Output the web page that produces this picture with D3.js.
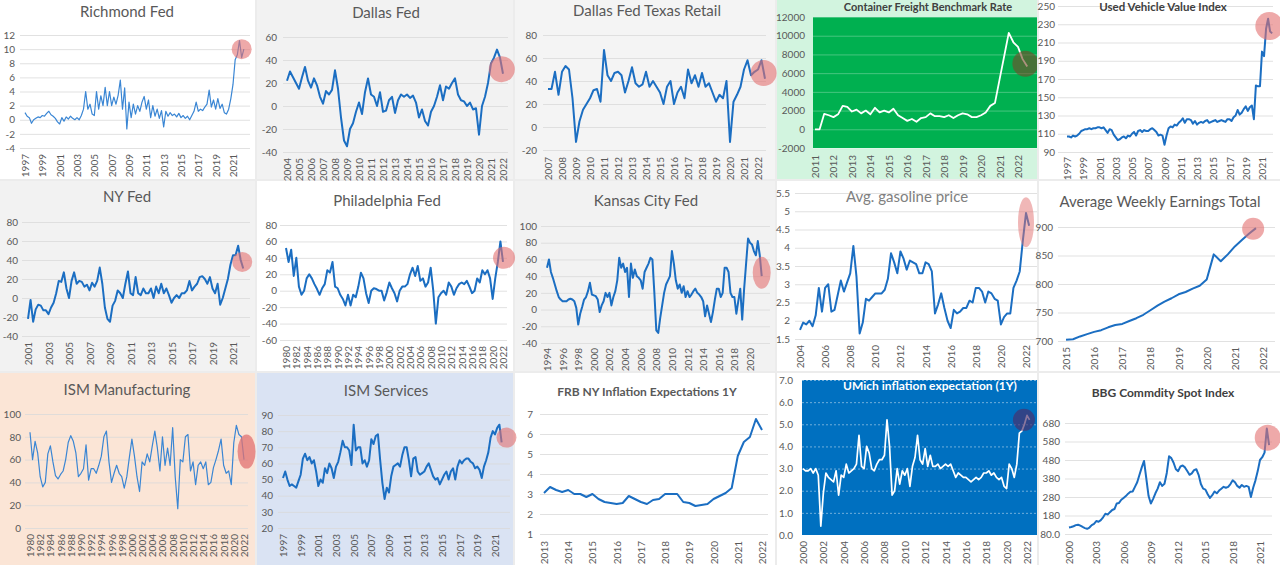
<!DOCTYPE html>
<html>
<head>
<meta charset="utf-8">
<script src="https://cdn.jsdelivr.net/npm/d3@7"></script>
<style>
  body { margin: 0; background: #fff; }
  svg { display: block; font-family: Lato, "Open Sans", sans-serif; }
</style>
</head>
<body>
<div id="chart"></div>
<script>
// ---- series values (quarterly unless noted) ----
const richmondValues = [1.0,0.5,0.3,-0.5, 0.0,0.2,0.4,0.3, 0.6,0.5,0.9,1.2, 0.7,0.5,0.2,-0.3, -0.6,0.3,-0.2,0.4,
  0.1,0.5,0.2,0.0, 0.3,0.0,0.6,1.5, 4.0,1.5,2.2,0.8, 0.6,4.0,1.5,3.4, 2.0,4.6,2.0,4.0, 2.0,3.2,2.2,3.5,
  5.6,1.5,4.5,-1.3, 2.5,0.3,2.2,0.8, 2.0,1.2,2.5,3.3, 1.5,2.8,0.3,2.0, 0.5,1.5,0.2,1.3, -1.0,1.2,0.5,1.0,
  0.6,0.8,0.4,0.9, 0.3,0.6,0.2,0.5, 0.0,0.6,1.2,2.5, 1.2,1.5,1.3,1.8, 2.2,4.2,1.8,2.8, 1.5,3.0,1.6,2.2,
  1.0,0.8,1.5,3.0, 5.0,8.5,9.2,11.2, 8.8,10.0];
const dallasValues = [22,30,25,20, 15,25,34,22, 16,24,18,8, 2,13,10,14, 31,15,-10,-30, -35,-20,-15,-5,
  3,-7,12,24, 10,8,0,12, -5,-4,5,8, -6,5,10,8, 10,7,9,3, -10,-3,-13,-17, -5,0,8,18, 5,17,15,20,
  24,10,5,4, 0,3,-3,-2, -25,0,8,20, 37,42,49,42, 28];
const texasValues = [33,33,48,28, 48,53,50,25, -13,5,15,20, 25,32,33,22, 67,45,40,47, 48,45,30,40,
  52,38,35,37, 48,35,40,35, 30,20,35,40, 20,30,35,25, 50,38,45,35, 47,35,38,30, 22,28,25,40,
  -13,22,28,35, 50,58,45,48, 50,58,42];
const freightValues = [0,0,1650,1500, 1300,1600,2500,2400, 1900,2100,1700,2000, 1600,2300,1800,2000,
  1800,2200,1500,1200, 900,1100,800,1200, 1300,1700,1400,1400, 1300,1500,1200,1500, 1700,1600,1300,1300,
  1500,1800,2500,2800, 5300,7800,10300,9300, 8800,7500,6700];
const usedValues = [107,107,106,108, 107,108,110,113, 114,115,115,116, 115,116,116,117, 117,116,117,114,
  111,115,114,109, 106,103,104,106, 107,105,108,107, 110,112,108,113, 114,112,114,113, 113,115,116,114,
  112,108,109,108, 98,108,116,118, 117,120,119,122, 124,127,122,126, 126,125,121,124, 120,122,123,122,
  124,125,122,123, 124,125,123,124, 125,124,123,126, 126,124,128,130, 136,131,133,137, 140,135,139,141,
  126,163,162,162, 200,195,225,236, 222,220];
const nyValues = [-22,-2,-25,-12, -7,-8,-13,-13, -17,-10,-5,5, 18,17,27,10, 0,18,27,15, 18,17,12,14,
  8,16,12,18, 32,15,-10,-22, -25,-8,-3,8, 5,0,15,28, 5,3,22,5, 3,10,5,5, 10,0,12,5, 15,5,10,3,
  -5,0,3,0, 5,5,8,18, 8,12,15,22, 23,20,15,22, 10,5,15,-7, 0,10,20,35, 45,45,55,40, 31];
// half-yearly
const phillyValues = [52,35, 50,18, 40,5, -5,0, 15,20, 15,8, 2,-5, 3,8, 25,22, 35,5, 3,-5, -10,-18,
  -5,-18, -5,-8, 5,22, 15,-3, -15,0, 3,2, 0,0, -12,-2, 10,3, -3,-13, 0,5, 5,8, 20,28, 18,30, 12,15,
  5,10, 28,0, -40,-8, -3,0, -5,10, 5,-5, 3,8, 10,8, 12,5, -3,0, 15,10, 25,20, 25,15, -10,15, 35,60, 35];
const kansasValues = [50,60,45,38, 30,22,15,12, 10,10,10,12, 13,12,10,2, -18,-5,3,12, 15,22,32,18,
  17,16,12,-3, 5,10,20,15, 20,5,15,22, 35,62,50,55, 45,50,15,55, 38,48,40,38, 35,25,45,50,
  55,62,60,20, -25,-28,-10,5, 20,30,35,40, 70,55,35,25, 30,20,28,15, 22,15,18,22, 25,20,18,15,
  10,-8,5,-5, -15,-3,12,25, 25,15,20,50, 50,45,20,15, 15,-5,10,25, -12,25,55,85, 80,78,70,65, 82,65,40];
const gasValues = [1.75,1.95,1.9,2.0, 1.85,2.15,2.9,2.25, 2.9,3.0,2.25,2.3, 2.7,3.1,2.8,3.05,
  3.3,4.05,3.2,1.65, 1.95,2.6,2.55,2.65, 2.75,2.75,2.75,2.85, 3.15,3.85,3.6,3.3, 3.9,3.7,3.4,3.65,
  3.6,3.55,3.3,3.3, 3.6,3.55,3.35,2.2, 2.45,2.75,2.35,2.0, 1.8,2.3,2.2,2.25, 2.35,2.35,2.55,2.5,
  2.9,2.9,2.8,2.5, 2.8,2.75,2.6,2.55, 1.9,2.1,2.2,2.2, 2.9,3.1,3.35,4.2, 4.95,4.6];
const earningsValues = [702,703,708,712, 716,719,724,728, 730,735,740,746, 754,762,769,775,
  782,786,792,797, 808,852,840,852, 866,877,888,898];
// half-yearly
const ismMfgValues = [84,60, 76,66, 45,36, 40,65, 72,58, 46,43, 47,50, 60,75, 81,76, 66,45, 48,52,
  73,42, 52,52, 48,55, 63,80, 85,58, 40,48, 55,48, 45,35, 45,62, 78,63, 45,32, 58,55, 65,58, 72,85,
  70,50, 80,55, 70,55, 88,45, 17,60, 58,80, 82,50, 58,38, 55,58, 52,58, 38,40, 53,60, 68,78, 55,48,
  50,38, 75,90, 82,80, 60];
const ismSvcValues = [51,55,50,46, 47,46,45,49, 53,63,66,62, 64,60,62,55, 46,50,48,57, 54,60,57,51,
  58,61,67,74, 70,70,68,59, 84,68,70,70, 60,62,58,62, 75,72,77,78, 62,48,38,45, 42,52,58,59,
  60,58,65,70, 70,62,52,63, 64,55,53,54, 55,58,60,56, 52,50,51,47, 50,53,55,50, 55,57,50,58,
  62,60,62,63, 63,61,60,57, 58,56,51,58, 62,67,76,80, 78,82,84,73];
const frbValues = [3.05,3.35,3.2,3.1, 3.2,3.0,3.0,2.85, 3.0,2.75,2.6,2.55, 2.5,2.55,2.9,2.75,
  2.6,2.5,2.7,2.75, 3.0,3.0,3.0,2.6, 2.55,2.4,2.45,2.5, 2.75,2.9,3.05,3.3, 4.9,5.6,5.85,6.75, 6.2];
const umichValues = [3.0,2.9,2.9,3.0, 2.8,3.0,2.7,0.4, 1.9,2.8,2.6,2.5, 2.4,2.9,1.8,2.7, 2.6,3.2,2.8,2.9,
  3.0,3.2,4.5,3.1, 3.0,4.0,3.7,3.0, 2.9,3.2,3.4,3.4, 3.6,5.2,4.0,1.8, 2.0,3.0,2.3,2.9, 2.7,3.0,2.2,3.1,
  3.5,4.5,3.4,3.2, 3.9,3.1,3.6,3.1, 3.1,3.2,3.0,3.1, 3.2,3.1,3.2,2.9, 2.6,2.8,2.7,2.6, 2.6,2.5,2.4,2.5,
  2.6,2.5,2.6,2.8, 2.8,2.9,2.7,2.8, 2.6,2.5,2.6,2.2, 2.1,3.2,3.0,2.6, 3.2,4.6,4.7,5.0, 5.4,5.2];
const bbgValues = [115,118,122,128, 130,125,118,112, 108,115,128,135, 150,146,155,170, 190,185,198,210,
  215,245,248,265, 275,285,298,308, 310,335,360,400, 440,475,380,285, 245,270,300,325, 360,340,352,410,
  500,490,465,430, 420,445,450,440, 420,400,408,425, 430,400,350,325, 320,295,275,290, 310,300,315,325,
  335,330,335,350, 370,360,340,330, 345,335,340,335, 280,330,370,420, 480,495,520,650, 560];

// ---- tick values / labels ----
const richmondYTicks = [-4,-2,0,2,4,6,8,10,12];
const richmondXTicks = [1997,1999,2001,2003,2005,2007,2009,2011,2013,2015,2017,2019,2021];
const dallasYTicks = [-40,-20,0,20,40,60];
const dallasXTicks = [2004,2005,2006,2007,2008,2009,2010,2011,2012,2013,2014,2015,2016,2017,2018,2019,2020,2021,2022];
const texasYTicks = [-20,0,20,40,60,80];
const texasXTicks = [2007,2008,2009,2010,2011,2012,2013,2014,2015,2016,2017,2018,2019,2020,2021,2022];
const freightYTicks = [-2000,0,2000,4000,6000,8000,10000,12000];
const freightXTicks = [2011,2012,2013,2014,2015,2016,2017,2018,2019,2020,2021,2022];
const usedYTicks = [90,110,130,150,170,190,210,230,250];
const usedXTicks = [1997,1999,2001,2003,2005,2007,2009,2011,2013,2015,2017,2019,2021];
const nyYTicks = [-40,-20,0,20,40,60,80];
const nyXTicks = [2001,2003,2005,2007,2009,2011,2013,2015,2017,2019,2021];
const phillyYTicks = [-60,-40,-20,0,20,40,60,80];
const phillyXTicks = [1980,1982,1984,1986,1988,1990,1992,1994,1996,1998,2000,2002,2004,2006,2008,2010,2012,2014,2016,2018,2020,2022];
const kansasYTicks = [-40,-20,0,20,40,60,80,100];
const kansasXTicks = [1994,1996,1998,2000,2002,2004,2006,2008,2010,2012,2014,2016,2018,2020];
const gasYTicks = [1.5,2,2.5,3,3.5,4,4.5,5,5.5];
const gasXTicks = [2004,2006,2008,2010,2012,2014,2016,2018,2020,2022];
const earningsYTicks = [700,750,800,850,900];
const earningsXTicks = [2015,2016,2017,2018,2019,2020,2021,2022];
const ismMfgYTicks = [0,20,40,60,80,100];
const ismMfgXTicks = [1980,1982,1984,1986,1988,1990,1992,1994,1996,1998,2000,2002,2004,2006,2008,2010,2012,2014,2016,2018,2020,2022];
const ismSvcYTicks = [20,30,40,50,60,70,80,90];
const ismSvcXTicks = [1997,1999,2001,2003,2005,2007,2009,2011,2013,2015,2017,2019,2021];
const frbYTicks = [1,2,3,4,5,6,7];
const frbXTicks = [2013,2014,2015,2016,2017,2018,2019,2020,2021,2022];
const umichYTicks = [0,1,2,3,4,5,6,7];
const umichYLabels = ["0.0","1.0","2.0","3.0","4.0","5.0","6.0","7.0"];
const umichXTicks = [2000,2002,2004,2006,2008,2010,2012,2014,2016,2018,2020,2022];
const bbgYTicks = [80,180,280,380,480,580,680];
const bbgYLabels = ["80.0","180","280","380","480","580","680"];
const bbgXTicks = [2000,2003,2006,2009,2012,2015,2018,2021];

// ---- layout of the 15 small charts ----
const PINK = "rgba(226,112,112,0.6)";
const panels = [
  {title:"Richmond Fed", box:[0,0,255,179], fill:"#ffffff", tx:127, ty:13,
   xd:[1997,2021], xr:[25,233], yd:[-4,12], yr:[148,35], yTicks:richmondYTicks, xTicks:richmondXTicks,
   labelRight:15, grid:[20,250], xTop:154, start:1997, step:0.25, values:richmondValues, lw:1.2, stroke:"#3a86d4",
   mark:{t:2022.0, v:10, rx:10, ry:10, fill:PINK}},
  {title:"Dallas Fed", box:[257,0,256,179], fill:"#f2f2f2", tx:386, ty:14,
   xd:[2004,2022], xr:[287,503], yd:[-40,60], yr:[152,37], yTicks:dallasYTicks, xTicks:dallasXTicks,
   labelRight:277, grid:[283,508], xTop:158, start:2004, step:0.25, values:dallasValues,
   mark:{t:2021.9, v:32, rx:13, ry:13, fill:PINK}},
  {title:"Dallas Fed Texas Retail", box:[515,0,260,179], fill:"#f4f4f4", tx:647, ty:12,
   xd:[2007,2022], xr:[548,758], yd:[-20,80], yr:[150,35], yTicks:texasYTicks, xTicks:texasXTicks,
   labelRight:537, grid:[543,766], xTop:157, start:2007, step:0.25, values:texasValues,
   mark:{t:2022.4, v:47, rx:13, ry:13, fill:PINK}},
  {title:"Container Freight Benchmark Rate", bold:true, size:11, box:[777,0,260,179], fill:"#d2f4df",
   plot:[813,17,224,131], plotFill:"#00b050", tx:928, ty:8,
   xd:[2011,2022], xr:[815,1018], yd:[-2000,12000], yr:[148,17], yTicks:freightYTicks, xTicks:freightXTicks,
   labelRight:805, grid:[813,1037], gridColor:"rgba(255,255,255,0.35)", xTop:155,
   start:2011, step:0.25, values:freightValues, stroke:"#ffffff", lw:1.8,
   mark:{t:2022.4, v:7000, rx:13, ry:13, fill:"rgba(120,72,40,0.6)", clip:true}},
  {title:"Used Vehicle Value Index", bold:true, size:11.5, box:[1039,0,241,179], fill:"#ffffff", tx:1163, ty:8,
   xd:[1997,2021], xr:[1067,1262], yd:[90,250], yr:[152,6], yTicks:usedYTicks, xTicks:usedXTicks,
   labelRight:1055, grid:[1058,1273], xTop:157, start:1997, step:0.25, values:usedValues,
   mark:{t:2021.9, v:228, rx:14, ry:14, fill:PINK}},

  {title:"NY Fed", box:[0,181,255,190], fill:"#f2f2f2", tx:127, ty:198,
   xd:[2001,2021], xr:[28,233], yd:[-40,80], yr:[336,222], yTicks:nyYTicks, xTicks:nyXTicks,
   labelRight:18, grid:[22,250], xTop:342, start:2001, step:0.25, values:nyValues,
   mark:{t:2021.9, v:38, rx:10, ry:10, fill:PINK}},
  {title:"Philadelphia Fed", box:[257,181,256,190], fill:"#ffffff", tx:387, ty:202,
   xd:[1980,2022], xr:[286,503], yd:[-60,80], yr:[340,225], yTicks:phillyYTicks, xTicks:phillyXTicks,
   labelRight:277, grid:[280,507], xTop:346, start:1980, step:0.5, values:phillyValues,
   mark:{t:2022.2, v:40, rx:11, ry:11, fill:PINK}},
  {title:"Kansas City Fed", box:[515,181,260,190], fill:"#f2f2f2", tx:646, ty:202,
   xd:[1994,2020], xr:[547,750], yd:[-40,100], yr:[343,226], yTicks:kansasYTicks, xTicks:kansasXTicks,
   labelRight:537, grid:[541,770], xTop:348, start:1994, step:0.25, values:kansasValues,
   mark:{t:2021.5, v:44, rx:9, ry:16, fill:PINK}},
  {title:"Avg. gasoline price", titleColor:"#808080", box:[777,181,260,190], fill:"#ffffff", tx:907, ty:198,
   xd:[2004,2022], xr:[800,1026], yd:[1.5,5.5], yr:[339,193], yTicks:gasYTicks, xTicks:gasXTicks,
   labelRight:790, grid:[795,1037], xTop:345, start:2004, step:0.25, values:gasValues,
   mark:{t:2022.0, v:4.7, rx:8, ry:25, fill:"rgba(226,112,112,0.5)"}},
  {title:"Average Weekly Earnings Total", box:[1039,181,241,190], fill:"#ffffff", tx:1160, ty:203,
   xd:[2015,2022], xr:[1066,1263], yd:[700,900], yr:[341,227], yTicks:earningsYTicks, xTicks:earningsXTicks,
   labelRight:1053, grid:[1058,1275], xTop:347, start:2015, step:0.25, values:earningsValues,
   mark:{t:2021.65, v:897, rx:11, ry:11, fill:PINK}},

  {title:"ISM Manufacturing", box:[0,373,255,192], fill:"#fbe5d6", tx:127, ty:391,
   xd:[1980,2022], xr:[30,244], yd:[0,100], yr:[528,414], yTicks:ismMfgYTicks, xTicks:ismMfgXTicks,
   labelRight:21, grid:[25,248], xTop:534, start:1980, step:0.5, values:ismMfgValues, lw:1.2, stroke:"#3a86d4",
   mark:{t:2022.5, v:67, rx:9, ry:17, fill:"rgba(226,112,112,0.75)"}},
  {title:"ISM Services", box:[257,373,256,192], fill:"#dae3f3", tx:386, ty:392,
   xd:[1997,2021], xr:[283,495], yd:[20,90], yr:[528,415], yTicks:ismSvcYTicks, xTicks:ismSvcXTicks,
   labelRight:273, grid:[278,510], xTop:534, start:1997, step:0.25, values:ismSvcValues,
   mark:{t:2022.3, v:76, rx:10, ry:10, fill:PINK}},
  {title:"FRB NY Inflation Expectations 1Y", bold:true, size:12, titleColor:"#595959", box:[515,373,260,192], fill:"#ffffff",
   tx:647, ty:393, xd:[2013,2022], xr:[544,762], yd:[1,7], yr:[534,414], yTicks:frbYTicks, xTicks:frbXTicks,
   labelRight:533, grid:[540,768], xTop:541, start:2013, step:0.25, values:frbValues},
  {title:"UMich inflation expectation (1Y)", bold:true, size:12, titleColor:"#ffffff", box:[777,373,260,192], fill:"#ffffff",
   plot:[802,380,235,155], plotFill:"#0070c0", tx:930, ty:387,
   xd:[2000,2022], xr:[803,1027], yd:[0,7], yr:[535,380], yTicks:umichYTicks, yLabels:umichYLabels, xTicks:umichXTicks,
   labelRight:793, grid:[802,1037], gridColor:"rgba(255,255,255,0.55)", gridDash:"2,2", xTop:541,
   start:2000, step:0.25, values:umichValues, stroke:"#ffffff", lw:1.7,
   mark:{t:2021.7, v:5.2, rx:11, ry:11, fill:"rgba(75,45,105,0.65)", clip:true}},
  {title:"BBG Commdity Spot Index", bold:true, size:12, box:[1039,373,241,192], fill:"#ffffff", tx:1163, ty:394,
   xd:[2000,2021], xr:[1069,1260], yd:[80,680], yr:[534,423], yTicks:bbgYTicks, yLabels:bbgYLabels, xTicks:bbgXTicks,
   labelRight:1060, grid:[1065,1272], xTop:541, start:2000, step:0.25, values:bbgValues,
   mark:{t:2021.85, v:600, rx:13, ry:13, fill:PINK}}
];

const svg = d3.select("#chart").append("svg")
  .attr("width", 1280).attr("height", 565);
svg.append("rect").attr("width", 1280).attr("height", 565).attr("fill", "#ececec");

const defs = svg.append("defs");
const marks = [];

function drawPanel(p, k) {
  const g = svg.append("g");
  g.append("rect")
    .attr("x", p.box[0]).attr("y", p.box[1])
    .attr("width", p.box[2]).attr("height", p.box[3])
    .attr("fill", p.fill);
  if (p.plot) {
    g.append("rect")
      .attr("x", p.plot[0]).attr("y", p.plot[1])
      .attr("width", p.plot[2]).attr("height", p.plot[3])
      .attr("fill", p.plotFill);
  }

  const x = d3.scaleLinear().domain(p.xd).range(p.xr);
  const y = d3.scaleLinear().domain(p.yd).range(p.yr);

  // y axis with gridlines
  const yAxis = d3.axisLeft(y)
    .tickValues(p.yTicks)
    .tickSizeInner(-(p.grid[1] - p.grid[0]))
    .tickSizeOuter(0)
    .tickPadding(p.grid[0] - p.labelRight)
    .tickFormat((d, i) => p.yLabels ? p.yLabels[i] : d);
  const yg = g.append("g")
    .attr("transform", "translate(" + p.grid[0] + ",0)")
    .call(yAxis)
    .attr("font-family", "Lato, sans-serif")
    .attr("font-size", 10);
  yg.select(".domain").remove();
  yg.selectAll(".tick line")
    .attr("stroke", p.gridColor || "#d9d9d9")
    .attr("stroke-width", 0.8)
    .attr("stroke-dasharray", p.gridDash || null);
  yg.selectAll(".tick text").attr("fill", "#595959");

  // rotated year labels
  const xAxis = d3.axisBottom(x)
    .tickValues(p.xTicks)
    .tickSize(0)
    .tickFormat(d3.format("d"));
  const xg = g.append("g")
    .attr("transform", "translate(0," + p.xTop + ")")
    .call(xAxis)
    .attr("font-family", "Lato, sans-serif")
    .attr("font-size", 10);
  xg.select(".domain").remove();
  xg.selectAll(".tick text")
    .attr("x", 0).attr("y", 0)
    .attr("dy", "0.35em")
    .attr("text-anchor", "end")
    .attr("transform", "rotate(-90)")
    .attr("fill", "#595959");

  // the series
  const pts = p.values.map((v, i) => ({t: p.start + i * p.step, v: v}));
  const line = d3.line().x(d => x(d.t)).y(d => y(d.v));
  g.append("path")
    .datum(pts)
    .attr("d", line)
    .attr("fill", "none")
    .attr("stroke", p.stroke || "#1b6ec2")
    .attr("stroke-width", p.lw || 2)
    .attr("stroke-linejoin", "round");

  // title
  g.append("text")
    .attr("x", p.tx).attr("y", p.ty)
    .attr("text-anchor", "middle")
    .attr("dominant-baseline", "middle")
    .attr("fill", p.titleColor || (p.bold ? "#404040" : "#595959"))
    .style("font-size", (p.size || 15) + "px")
    .style("font-weight", p.bold ? 700 : 400)
    .text(p.title);

  if (p.mark) {
    let clipId = null;
    if (p.mark.clip) {
      clipId = "clip" + k;
      defs.append("clipPath").attr("id", clipId)
        .append("rect")
        .attr("x", p.box[0]).attr("y", p.box[1])
        .attr("width", p.box[2]).attr("height", p.box[3]);
    }
    marks.push({cx: x(p.mark.t), cy: y(p.mark.v), rx: p.mark.rx, ry: p.mark.ry, fill: p.mark.fill, clip: clipId});
  }
}

panels.forEach(drawPanel);

// highlight ellipses sit on top and may spill into the neighbour panel
svg.append("g").selectAll("ellipse")
  .data(marks)
  .enter()
  .append("ellipse")
  .attr("cx", d => d.cx).attr("cy", d => d.cy)
  .attr("rx", d => d.rx).attr("ry", d => d.ry)
  .attr("fill", d => d.fill)
  .attr("clip-path", d => d.clip ? "url(#" + d.clip + ")" : null);
</script>
</body>
</html>
